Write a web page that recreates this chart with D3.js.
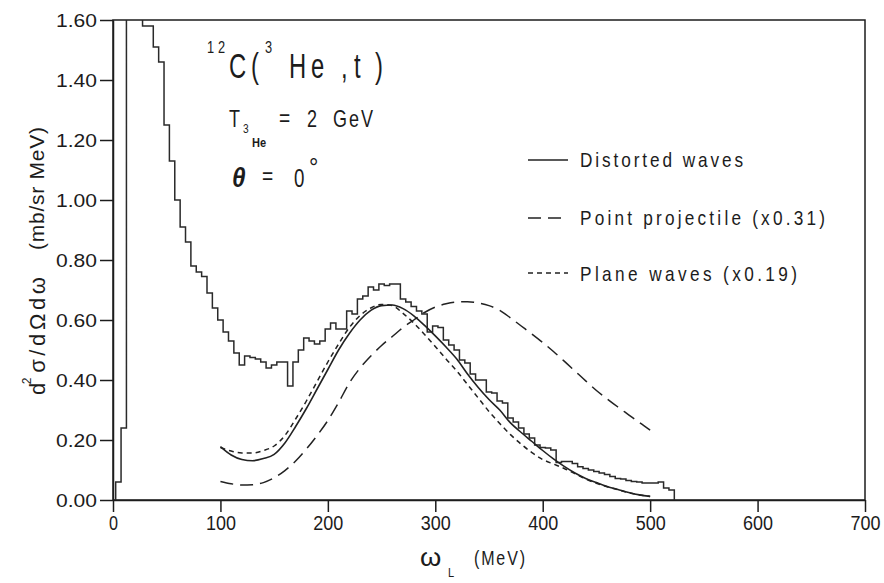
<!DOCTYPE html>
<html><head><meta charset="utf-8">
<script src="https://cdn.jsdelivr.net/npm/d3@7"></script>
<style>
html,body{margin:0;padding:0;background:#fff;}
svg{display:block;}
</style></head>
<body>
<svg id="chart" width="884" height="583"></svg>
<script>
// ---------------- DATA ----------------
const histStart = 2.5;      // MeV, left edge of first bin
const histBinWidth = 5;     // MeV
const histValues = [
 0.06,0.24,2.9,3.4,2.2,1.58,1.58,1.51,1.46,1.25,
 1.13,1.00,0.91,0.86,0.78,0.76,0.745,0.69,0.64,0.60,
 0.56,0.53,0.49,0.45,0.48,0.475,0.47,0.46,0.44,0.45,
 0.46,0.46,0.38,0.46,0.50,0.54,0.53,0.52,0.53,0.57,
 0.59,0.57,0.57,0.63,0.62,0.67,0.68,0.71,0.70,0.72,
 0.715,0.72,0.72,0.67,0.66,0.645,0.63,0.62,0.56,0.58,
 0.575,0.533,0.517,0.50,0.467,0.457,0.42,0.40,0.40,0.36,
 0.357,0.33,0.323,0.273,0.26,0.24,0.22,0.207,0.183,0.175,
 0.173,0.167,0.125,0.128,0.128,0.122,0.111,0.105,0.10,0.095,
 0.09,0.085,0.078,0.072,0.07,0.065,0.062,0.06,0.057,0.057,
 0.057,0.06,0.04,0.033
];
const curveEnergy = [100,110,120,130,140,150,160,170,180,190,200,210,220,230,240,250,260,270,280,290,300,
 310,320,330,340,350,360,370,380,390,400,410,420,430,440,450,460,470,480,490,500];
const distortedWaves = [0.178,0.15,0.135,0.131,0.138,0.152,0.19,0.245,0.305,0.37,0.435,0.50,0.555,0.60,0.632,0.648,0.65,0.638,0.614,0.582,0.547,
 0.51,0.47,0.42,0.375,0.335,0.30,0.257,0.225,0.195,0.165,0.137,0.112,0.09,0.072,0.058,0.045,0.035,0.025,0.017,0.012];
const pointProjectile = [0.062,0.054,0.05,0.051,0.058,0.074,0.098,0.13,0.17,0.215,0.265,0.325,0.39,0.44,0.48,0.515,0.545,0.575,0.60,0.625,0.643,
 0.654,0.66,0.661,0.657,0.648,0.632,0.607,0.58,0.553,0.525,0.495,0.463,0.43,0.397,0.365,0.337,0.31,0.284,0.258,0.233];
const planeWaves = [0.175,0.163,0.157,0.157,0.165,0.18,0.215,0.27,0.33,0.395,0.46,0.52,0.575,0.615,0.64,0.652,0.648,0.622,0.59,0.552,0.512,
 0.47,0.43,0.385,0.34,0.295,0.255,0.218,0.186,0.158,0.135,0.12,0.105,0.088,0.07,0.056,0.044,0.034,0.024,0.017,0.012];
const xTicks = [0,100,200,300,400,500,600,700];
const yTicks = [0,0.2,0.4,0.6,0.8,1.0,1.2,1.4,1.6];
const legendLabels = ["Distorted waves","Point projectile (x0.31)","Plane waves (x0.19)"];

// ---------------- SETUP ----------------
const FONT = "'Liberation Sans','Arial','Helvetica',sans-serif";
const INK = "#1c1c1c";
const svg = d3.select("#chart");
const x = d3.scaleLinear().domain([0,700]).range([113,865]);
const y = d3.scaleLinear().domain([0,1.6]).range([500,20]);

svg.append("defs").append("clipPath").attr("id","plotclip")
  .append("rect").attr("x",113).attr("y",20).attr("width",752).attr("height",480);

// frame
svg.append("rect").attr("x",113).attr("y",20).attr("width",752).attr("height",480)
  .attr("fill","none").attr("stroke",INK).attr("stroke-width",1.5);

// axes
const yAxis = svg.append("g").attr("transform","translate(113,0)")
  .call(d3.axisLeft(y).tickValues(yTicks).tickFormat(d3.format(".2f")).tickSize(13).tickPadding(3).tickSizeOuter(0));
yAxis.selectAll("line,path").attr("stroke",INK).attr("stroke-width",1.5);
yAxis.selectAll("text").attr("fill",INK).style("font-family",FONT).style("font-size","19px")
  .attr("textLength",41).attr("lengthAdjust","spacingAndGlyphs");

const xAxis = svg.append("g").attr("transform","translate(0,500)")
  .call(d3.axisBottom(x).tickValues(xTicks).tickFormat(d3.format("d")).tickSize(12).tickPadding(4).tickSizeOuter(0));
xAxis.selectAll("line,path").attr("stroke",INK).attr("stroke-width",1.5);
xAxis.selectAll("text").attr("fill",INK).style("font-family",FONT).style("font-size","20px")
  .attr("textLength",d => String(d).length===1 ? 9 : 30).attr("lengthAdjust","spacingAndGlyphs");

// ---------------- HISTOGRAM ----------------
const histPts = [{e:histStart, v:0}];
histValues.forEach((v,i) => histPts.push({e:histStart + i*histBinWidth, v}));
histPts.push({e:histStart + histValues.length*histBinWidth, v:0});
const stepLine = d3.line().x(d=>x(d.e)).y(d=>y(d.v)).curve(d3.curveStepAfter);
svg.append("path").attr("clip-path","url(#plotclip)")
  .attr("d",stepLine(histPts)).attr("fill","none").attr("stroke","#2a2a2a").attr("stroke-width",1.5);

// ---------------- CURVES ----------------
const smooth = d3.line().x(d=>x(d[0])).y(d=>y(d[1])).curve(d3.curveMonotoneX);
const series = [
  {vals:distortedWaves, dash:null, w:1.6},
  {vals:pointProjectile, dash:"13,7", w:1.5},
  {vals:planeWaves, dash:"5,4", w:1.5}
];
series.forEach(s => {
  svg.append("path").attr("d", smooth(curveEnergy.map((e,i)=>[e,s.vals[i]])))
    .attr("fill","none").attr("stroke","#222").attr("stroke-width",s.w)
    .attr("stroke-dasharray",s.dash);
});

// ---------------- TEXT HELPER ----------------
function put(str, px, py, size, o={}) {
  const t = svg.append("text").text(str).attr("fill",INK)
    .style("font-family",FONT).style("font-size",size+"px");
  const sx = o.sx || 1;
  t.attr("transform",`translate(${px},${py})${o.rot?` rotate(${o.rot})`:''} scale(${sx},1)`);
  if (o.anchor) t.attr("text-anchor",o.anchor);
  if (o.weight) t.style("font-weight",o.weight);
  if (o.italic) t.style("font-style","italic");
  if (o.width) t.attr("textLength",o.width/sx).attr("lengthAdjust","spacing");
  return t;
}

// ---------------- LEGEND ----------------
const legY = [160,218,273];
const legBase = [167,225,281];
const legW = [163,245,217];
series.forEach((s,i) => {
  svg.append("line").attr("x1",528).attr("x2",568).attr("y1",legY[i]).attr("y2",legY[i])
    .attr("stroke","#222").attr("stroke-width",1.5).attr("stroke-dasharray",s.dash);
  put(legendLabels[i], 580, legBase[i], 21, {width:legW[i], sx:0.82});
});

// ---------------- ANNOTATION ----------------
put("12", 207, 53, 16, {width:18, sx:0.8});
put("C", 229, 78, 35, {sx:0.68});
put("(", 251, 78, 35, {sx:0.68});
put("3", 265, 53, 16, {sx:0.8});
put("H", 289, 78, 35, {sx:0.68});
put("e", 311, 78, 35, {sx:0.68});
put(",", 341, 78, 35, {sx:0.68});
put("t", 354, 78, 35, {sx:0.68});
put(")", 375, 78, 35, {sx:0.68});

put("T", 229, 127, 24, {sx:0.75});
put("3", 243, 133, 12, {sx:0.85});
put("He", 252, 147, 13, {weight:"bold", sx:0.85});
put("=", 279, 126, 24, {sx:0.8});
put("2", 307, 127, 24, {sx:0.75});
put("GeV", 333, 127, 24, {width:40, sx:0.75});

put("θ", 232, 187, 27, {weight:"bold", italic:true, sx:0.9});
put("=", 262, 184, 24, {sx:0.8});
put("0", 294, 187, 26, {sx:0.72});
put("°", 309, 176, 26, {sx:0.9});

// ---------------- AXIS TITLES ----------------
const yt = svg.append("text").attr("fill",INK).style("font-family",FONT).style("font-size","22px")
  .attr("transform","translate(45,395) rotate(-90)")
  .attr("textLength",118).attr("lengthAdjust","spacing");
yt.append("tspan").text("d");
yt.append("tspan").text("2").style("font-size","12px").attr("dx",-5).attr("dy",-14);
yt.append("tspan").text("σ/dΩdω").attr("dy",14).attr("dx",1);
put("(mb/sr MeV)", 44, 250, 21, {rot:-90, width:123});

put("ω", 420, 566, 26, {sx:1.05});
put("L", 448, 577, 13, {sx:0.85});
put("(MeV)", 474, 565, 20, {width:51, sx:0.8});
</script>
</body></html>
